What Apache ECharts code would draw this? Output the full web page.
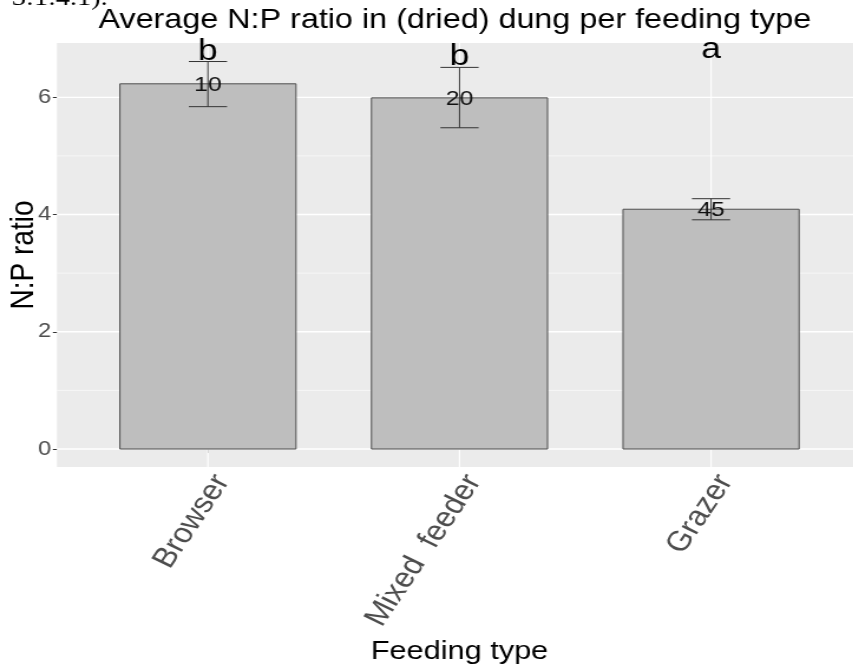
<!DOCTYPE html>
<html>
<head>
<meta charset="utf-8">
<script src="https://cdn.jsdelivr.net/npm/echarts@6/dist/echarts.min.js"></script>
<style>
html,body{margin:0;padding:0;background:#fff;overflow:hidden;}
#c{width:723px;height:669px;transform:scaleX(1.18);transform-origin:0 0;}
</style>
</head>
<body>
<div id="c"></div>
<script>
// ---- data ----
const categories = ['Browser', 'Mixed  feeder', 'Grazer'];
const means = [6.23, 5.99, 4.09];
const errLow = [5.84, 5.48, 3.91];
const errHigh = [6.61, 6.51, 4.27];
const counts = ['10', '20', '45'];
const letters = ['b', 'b', 'a'];
const letterY = [6.61, 6.52, 6.64];
const yTicks = [0, 2, 4, 6];
const yMinor = [1, 3, 5];

// ---- layout ----
const FONT = 'Liberation Sans, Arial, Helvetica, sans-serif';
const xMin = 0.4, xMax = 3.6;
const yMin = -0.307, yMax = 6.926;
const gridLeft = 48.3, gridTop = 43, gridWidth = 682.2, gridHeight = 424;
const xPos = categories.map((_, i) => i + 1);

const gridLineData = [
  ...yMinor.map(v => [0, v, 0.6]),
  ...yTicks.map(v => [0, v, 1.3]),
  ...xPos.map(v => [1, v, 1.2])
];

const chart = echarts.init(document.getElementById('c'), null, {renderer: 'canvas'});

const option = {
  backgroundColor: '#ffffff',
  animation: false,
  title: {
    text: 'Average N:P ratio in (dried) dung per feeding type',
    left: gridLeft + gridWidth / 2 - 4,
    textAlign: 'center',
    top: 7,
    padding: 0,
    textStyle: {fontFamily: FONT, fontSize: 27.4, fontWeight: 'normal', color: '#000'}
  },
  graphic: [{
    type: 'text',
    x: 10, y: -1,
    style: {text: '3:1:4.1).', font: '24px "Liberation Serif", "Times New Roman", serif', fill: '#000', align: 'left', verticalAlign: 'middle'}
  }],
  grid: {
    left: gridLeft, top: gridTop, width: gridWidth, height: gridHeight,
    containLabel: false, outerBoundsMode: 'none',
    show: true, backgroundColor: '#EBEBEB', borderWidth: 0
  },
  xAxis: {
    type: 'value', min: xMin, max: xMax,
    name: 'Feeding type', nameLocation: 'middle', nameGap: 172,
    nameTextStyle: {fontFamily: FONT, fontSize: 26, color: '#000'},
    axisLine: {show: false},
    splitLine: {show: false},
    axisTick: {show: true, length: 4, lineStyle: {color: '#333', width: 1}, customValues: xPos},
    axisLabel: {
      customValues: xPos, rotate: 60, margin: 3, verticalAlign: 'top',
      fontFamily: FONT, fontSize: 28, color: '#4D4D4D',
      formatter: v => categories[Math.round(v) - 1] || ''
    }
  },
  yAxis: {
    type: 'value', min: yMin, max: yMax,
    name: 'N:P ratio', nameLocation: 'middle', nameGap: 14, nameMoveOverlap: false,
    nameTextStyle: {fontFamily: FONT, fontSize: 28, color: '#000'},
    axisLine: {show: false},
    splitLine: {show: false},
    axisTick: {show: true, length: 3.5, lineStyle: {color: '#333', width: 1}, customValues: yTicks},
    axisLabel: {customValues: yTicks, margin: 5, fontFamily: FONT, fontSize: 20, color: '#4D4D4D'}
  },
  series: [
    {
      // panel grid lines (major + minor), drawn under the bars
      type: 'custom', z: 1, silent: true, clip: true,
      data: gridLineData,
      renderItem: (params, api) => {
        const cs = params.coordSys;
        const dir = api.value(0), v = api.value(1), w = api.value(2);
        const st = {stroke: '#FFFFFF', lineWidth: w};
        if (dir === 0) {
          const y = api.coord([xMin, v])[1];
          return {type: 'line', shape: {x1: cs.x, y1: y, x2: cs.x + cs.width, y2: y}, style: st};
        }
        const x = api.coord([v, 0])[0];
        return {type: 'line', shape: {x1: x, y1: cs.y, x2: x, y2: cs.y + cs.height}, style: st};
      }
    },
    {
      // bars
      type: 'custom', z: 2,
      data: xPos.map((x, i) => [x, means[i]]),
      renderItem: (params, api) => {
        const x = api.value(0), v = api.value(1);
        const top = api.coord([x, v]);
        const base = api.coord([x, 0]);
        const w = api.size([0.7, 0])[0];
        return {type: 'rect', shape: {x: top[0] - w / 2, y: top[1], width: w, height: base[1] - top[1]},
          style: {fill: '#BEBEBE', stroke: '#4F4F4F', lineWidth: 1}};
      }
    },
    {
      // error bars
      type: 'custom', z: 3,
      data: xPos.map((x, i) => [x, errLow[i], errHigh[i]]),
      renderItem: (params, api) => {
        const x = api.value(0);
        const pLo = api.coord([x, api.value(1)]);
        const pHi = api.coord([x, api.value(2)]);
        const hw = api.size([0.076, 0])[0];
        const st = {stroke: '#333333', lineWidth: 1};
        return {type: 'group', children: [
          {type: 'line', shape: {x1: pLo[0], y1: pLo[1], x2: pHi[0], y2: pHi[1]}, style: st},
          {type: 'line', shape: {x1: pHi[0] - hw, y1: pHi[1], x2: pHi[0] + hw, y2: pHi[1]}, style: st},
          {type: 'line', shape: {x1: pLo[0] - hw, y1: pLo[1], x2: pLo[0] + hw, y2: pLo[1]}, style: st}
        ]};
      }
    },
    {
      // sample sizes
      type: 'custom', z: 4,
      data: xPos.map((x, i) => [x, means[i], i]),
      renderItem: (params, api) => {
        const p = api.coord([api.value(0), api.value(1)]);
        return {type: 'text', x: p[0], y: p[1] + 1, style: {
          text: counts[api.value(2)], font: '21px ' + FONT, fill: '#111', align: 'center', verticalAlign: 'middle'}};
      }
    },
    {
      // significance letters
      type: 'custom', z: 4,
      data: xPos.map((x, i) => [x, letterY[i], i]),
      renderItem: (params, api) => {
        const p = api.coord([api.value(0), api.value(1)]);
        return {type: 'text', x: p[0], y: p[1] - 10, style: {
          text: letters[api.value(2)], font: '30px ' + FONT, fill: '#000', align: 'center', verticalAlign: 'middle'}};
      }
    }
  ]
};
chart.setOption(option);
</script>
</body>
</html>
